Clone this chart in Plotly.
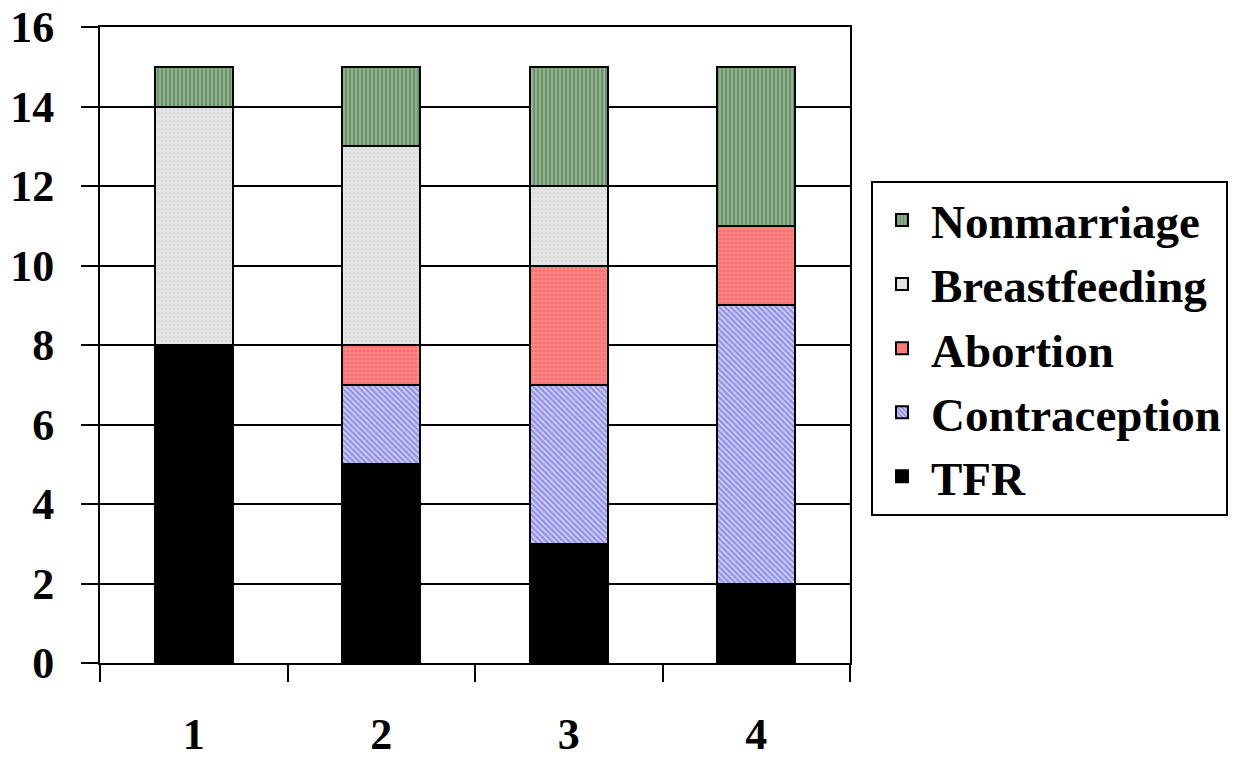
import plotly.graph_objects as go

categories = ["1", "2", "3", "4"]
tfr = [8, 5, 3, 2]
contraception = [0, 2, 4, 7]
abortion = [0, 1, 3, 2]
breastfeeding = [6, 5, 2, 0]
nonmarriage = [1, 2, 3, 4]
y_ticks = [0, 2, 4, 6, 8, 10, 12, 14, 16]

FONT = "Times New Roman"

series = [
    ("TFR", tfr, dict(color="#000000")),
    ("Contraception", contraception,
     dict(color="#8c8ce6", pattern=dict(shape="\\", fgcolor="#4a4ad8", bgcolor="#d6d6f8", size=4, solidity=0.6))),
    ("Abortion", abortion,
     dict(color="#ff8080", pattern=dict(shape="+", fgcolor="#ffd0d0", bgcolor="#ff6a6a", size=4, solidity=0.35))),
    ("Breastfeeding", breastfeeding,
     dict(color="#e4e4e4", pattern=dict(shape=".", fgcolor="#cccccc", bgcolor="#e6e6e6", size=4, solidity=0.3))),
    ("Nonmarriage", nonmarriage,
     dict(color="#8aab88", pattern=dict(shape="|", fgcolor="#3a6a3a", bgcolor="#92b290", size=4, solidity=0.45))),
]

fig = go.Figure()
for name, vals, marker in series:
    m = dict(marker)
    m["line"] = dict(color="#000000", width=2)
    fig.add_trace(go.Bar(x=categories, y=vals, name=name, marker=m, legendgroup=name))

fig.update_layout(
    barmode="stack",
    bargap=0.584,
    width=1237,
    height=759,
    margin=dict(l=100, r=387, t=27, b=96, autoexpand=False),
    paper_bgcolor="white",
    plot_bgcolor="white",
    font=dict(family=FONT, size=44, color="black", weight="bold"),
    legend=dict(
        x=1.028, y=0.758, xanchor="left", yanchor="top",
        bordercolor="black", borderwidth=2, bgcolor="white",
        traceorder="reversed", tracegroupgap=3, itemwidth=48,
        font=dict(family=FONT, size=47, color="black", weight="bold"),
    ),
)
fig.update_yaxes(
    range=[0, 16], tickvals=y_ticks, ticks="outside", ticklen=17, tickwidth=2, tickcolor="black",
    showgrid=True, gridcolor="black", gridwidth=2,
    showline=True, linecolor="black", linewidth=2, mirror=True,
    ticklabelstandoff=18, zeroline=False, automargin=False, ticklabeloverflow="allow",
    tickfont=dict(family=FONT, size=44, color="black", weight="bold"),
)
fig.update_xaxes(
    ticks="outside", tickson="boundaries", ticklen=17, tickwidth=2, tickcolor="black",
    showline=True, linecolor="black", linewidth=2, mirror=True, showgrid=False,
    ticklabelstandoff=31, automargin=False, ticklabeloverflow="allow",
    tickfont=dict(family=FONT, size=44, color="black", weight="bold"),
)

fig.write_html(
    "out.html",
    config={"displayModeBar": False},
    post_script="document.body.style.margin='0';document.body.style.overflow='hidden';",
)
